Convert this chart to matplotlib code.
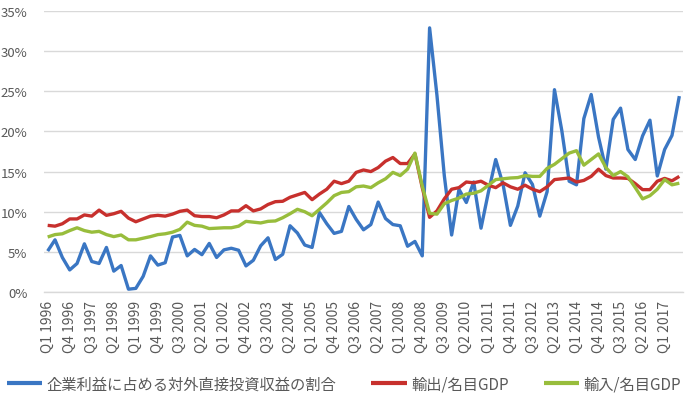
import matplotlib
matplotlib.use("Agg")
import matplotlib.pyplot as plt
from matplotlib.ticker import FuncFormatter, MultipleLocator

plt.rcParams['font.family'] = ['Noto Sans CJK JP', 'DejaVu Sans']

years = list(range(1996, 2018))
quarters = [f"Q{q} {y}" for y in years for q in range(1, 5)][:87]

series_names = ["企業利益に占める対外直接投資収益の割合", "輸出/名目GDP", "輸入/名目GDP"]

fdi_share = [5.1, 6.5, 4.3, 2.75, 3.55, 6.0, 3.8, 3.55, 5.55, 2.6,
             3.3, 0.35, 0.45, 1.95, 4.5, 3.35, 3.65, 6.85, 7.05, 4.5,
             5.3, 4.65, 6.05, 4.3, 5.25, 5.45, 5.2, 3.25, 3.95, 5.75,
             6.75, 4.05, 4.7, 8.25, 7.35, 5.85, 5.55, 9.9, 8.5, 7.3,
             7.55, 10.65, 9.05, 7.75, 8.4, 11.2, 9.15, 8.4, 8.25, 5.7,
             6.3, 4.5, 32.9, 24.5, 14.5, 7.1, 12.8, 11.15, 13.7, 7.95,
             12.4, 16.5, 13.4, 8.3, 10.7, 14.85, 13.4, 9.45, 12.5, 25.2,
             20.1, 13.8, 13.35, 21.6, 24.6, 19.3, 15.3, 21.5, 22.9, 17.75,
             16.5, 19.45, 21.4, 14.45, 17.75, 19.5, 24.4]

exports_gdp = [8.3, 8.2, 8.5, 9.1, 9.1, 9.6, 9.45, 10.2, 9.55, 9.75,
               10.05, 9.2, 8.75, 9.1, 9.45, 9.55, 9.45, 9.7, 10.05, 10.2,
               9.5, 9.4, 9.4, 9.25, 9.6, 10.1, 10.1, 10.75, 10.1, 10.35,
               10.9, 11.25, 11.3, 11.8, 12.1, 12.4, 11.5, 12.2, 12.8, 13.8,
               13.5, 13.8, 14.9, 15.2, 15.0, 15.5, 16.3, 16.75, 16.0, 16.0,
               17.2, 13.0, 9.3, 10.1, 11.6, 12.8, 13.0, 13.7, 13.6, 13.8,
               13.3, 13.0, 13.6, 13.1, 12.8, 13.3, 12.8, 12.5, 13.1, 14.0,
               14.1, 14.2, 13.7, 13.9, 14.4, 15.3, 14.5, 14.2, 14.2, 14.15,
               13.5, 12.75, 12.75, 13.8, 14.15, 13.85, 14.4]

imports_gdp = [6.85, 7.15, 7.25, 7.65, 8.0, 7.65, 7.45, 7.55, 7.15, 6.9,
               7.1, 6.5, 6.5, 6.7, 6.9, 7.15, 7.25, 7.45, 7.8, 8.7,
               8.3, 8.2, 7.9, 7.95, 8.0, 8.0, 8.2, 8.8, 8.7, 8.6,
               8.8, 8.85, 9.25, 9.75, 10.3, 10.0, 9.5, 10.3, 11.1, 12.0,
               12.4, 12.5, 13.1, 13.2, 13.0, 13.6, 14.1, 14.9, 14.5, 15.3,
               17.3, 13.2, 9.8, 9.7, 11.0, 11.4, 11.7, 12.2, 12.3, 12.6,
               13.3, 14.0, 14.1, 14.2, 14.25, 14.5, 14.4, 14.4, 15.4, 15.9,
               16.6, 17.3, 17.6, 15.8, 16.5, 17.2, 15.5, 14.5, 15.0, 14.35,
               13.0, 11.6, 12.0, 12.8, 14.0, 13.35, 13.55]

colors = ['#3a76c3', '#c7302d', '#98bd3c']
text_color = '#595959'
grid_color = '#d9d9d9'

fig = plt.figure(figsize=(6.88, 4.06), dpi=100)
ax = fig.add_axes([44/688, 1-293/406, (683-44)/688, (293-12)/406])

x = list(range(len(quarters)))
for vals, c, name, z in zip([fdi_share, exports_gdp, imports_gdp], colors, series_names, [3, 4, 5]):
    ax.plot(x, [v/100 for v in vals], color=c, lw=2.4, label=name, zorder=z,
            solid_joinstyle='round', solid_capstyle='butt')

ax.set_xlim(-0.5, len(quarters) - 0.5)
ax.set_ylim(0, 0.35)
ax.yaxis.set_major_locator(MultipleLocator(0.05))
ax.yaxis.set_major_formatter(FuncFormatter(lambda v, p: f"{v*100:.0f}%"))
ax.grid(axis='y', color=grid_color, lw=1.0, zorder=0)
ax.set_axisbelow(True)
for s in ['top', 'right', 'left']:
    ax.spines[s].set_visible(False)
ax.spines['bottom'].set_color(grid_color)
ax.spines['bottom'].set_linewidth(1.0)

tick_idx = x[::3]
ax.set_xticks(tick_idx)
ax.set_xticklabels([quarters[i] for i in tick_idx], rotation=90, fontsize=10,
                   color=text_color, va='top', ha='center')
ax.tick_params(axis='x', length=0, pad=6)
ax.tick_params(axis='y', length=0, pad=12, labelsize=9.5, labelcolor=text_color)

leg = fig.legend(loc='center', bbox_to_anchor=(0.5, 1-385/406), ncol=3, frameon=False,
                 handlelength=2.3, handletextpad=0.3, columnspacing=2.3,
                 prop={'size': 11})
for t in leg.get_texts():
    t.set_color(text_color)
for h in leg.legend_handles:
    h.set_linewidth(3)

fig.savefig("out.png", dpi=100)
